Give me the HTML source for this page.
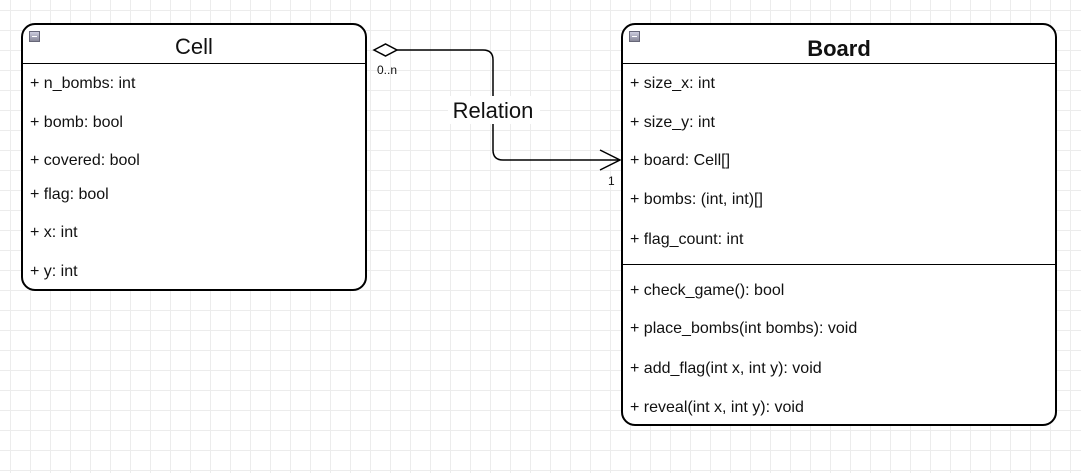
<!DOCTYPE html>
<html><head><style>
body{margin:0;width:1081px;height:473px;overflow:hidden;background:#fff;
background-image:linear-gradient(#ececec 1px,transparent 1px),linear-gradient(90deg,#ececec 1px,transparent 1px);
background-size:20px 20px;background-position:10px 10px;font-family:"Liberation Sans",sans-serif;position:relative}
.box{position:absolute;border:2px solid #000;border-radius:14px;background:#fff;box-sizing:border-box}
.t{position:absolute;font-size:16px;color:#111;white-space:nowrap;line-height:18px}
.hl{position:absolute;left:0;right:0;height:0;border-top:1.5px solid #000}
.ic{position:absolute;left:6px;top:6px;width:11px;height:11px;background:linear-gradient(#ccd,#889);border:1px solid #667;box-sizing:border-box}
.ic:after{content:"";position:absolute;left:2px;right:2px;top:4px;height:1px;background:#fff}
</style></head><body>
<div class="box" style="left:21px;top:23px;width:346px;height:268px">
<div class="ic"></div>
<div class="t" style="left:0;right:0;top:9px;text-align:center;font-size:22px;line-height:26px">Cell</div>
<div class="hl" style="top:38px"></div>
</div>
<div class="t" style="left:30px;top:75px">+ n_bombs: int</div>
<div class="t" style="left:30px;top:114px">+ bomb: bool</div>
<div class="t" style="left:30px;top:152px">+ covered: bool</div>
<div class="t" style="left:30px;top:186px">+ flag: bool</div>
<div class="t" style="left:30px;top:224px">+ x: int</div>
<div class="t" style="left:30px;top:263px">+ y: int</div>

<div class="box" style="left:621px;top:23px;width:436px;height:403px">
<div class="ic"></div>
<div class="t" style="left:0;right:0;top:11px;text-align:center;font-size:22px;line-height:26px;font-weight:bold">Board</div>
<div class="hl" style="top:38px"></div>
<div class="hl" style="top:239px"></div>
</div>
<div class="t" style="left:630px;top:75px">+ size_x: int</div>
<div class="t" style="left:630px;top:114px">+ size_y: int</div>
<div class="t" style="left:630px;top:152px">+ board: Cell[]</div>
<div class="t" style="left:630px;top:191px">+ bombs: (int, int)[]</div>
<div class="t" style="left:630px;top:231px">+ flag_count: int</div>
<div class="t" style="left:630px;top:282px">+ check_game(): bool</div>
<div class="t" style="left:630px;top:320px">+ place_bombs(int bombs): void</div>
<div class="t" style="left:630px;top:360px">+ add_flag(int x, int y): void</div>
<div class="t" style="left:630px;top:399px">+ reveal(int x, int y): void</div>

<svg style="position:absolute;left:0;top:0" width="1081" height="473">
<path d="M397 50 H483 Q493 50 493 60 V150 Q493 160 503 160 H620" fill="none" stroke="#000" stroke-width="1.5"/>
<path d="M374 50 L385.5 44 L397 50 L385.5 56 Z" fill="#fff" stroke="#000" stroke-width="1.5"/>
<path d="M600 150 L620 160 L600 170" fill="none" stroke="#000" stroke-width="1.5"/>
<rect x="448" y="96" width="92" height="28" fill="#fff"/>
</svg>
<div class="t" style="left:448px;top:98px;width:90px;text-align:center;font-size:22px;line-height:26px">Relation</div>
<div class="t" style="left:377px;top:63px;font-size:12px;line-height:14px">0..n</div>
<div class="t" style="left:608px;top:174px;font-size:12px;line-height:14px">1</div>
</body></html>
